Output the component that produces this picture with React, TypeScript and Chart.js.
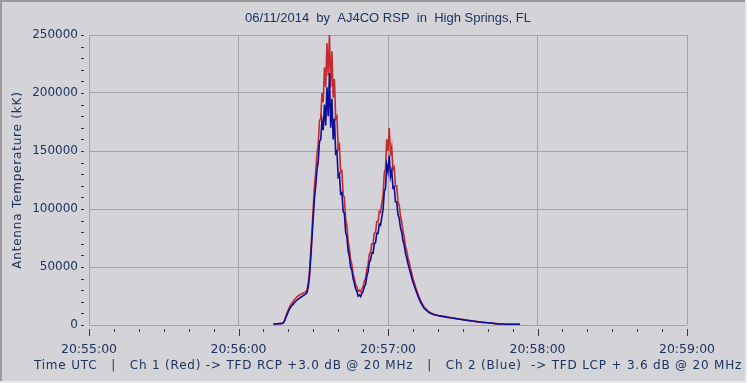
import React, { useEffect, useRef } from 'react';
import { Chart, registerables } from 'chart.js';

Chart.register(...registerables);

const TITLE = '06/11/2014  by  AJ4CO RSP  in  High Springs, FL';
const Y_TITLE = 'Antenna Temperature (kK)';
const X_TITLE = 'Time UTC   |   Ch 1 (Red) -> TFD RCP +3.0 dB @ 20 MHz   |   Ch 2 (Blue)  -> TFD LCP + 3.6 dB @ 20 MHz';

// x axis: seconds after 20:55:00
const xTickLabels = ['20:55:00', '20:56:00', '20:57:00', '20:58:00', '20:59:00'];
const X_MIN_S = 0;
const X_MAX_S = 240;
const Y_MAX = 250000;

// samples: first sample time (s after 20:55:00) and sample interval (s)
const SAMPLE_START_S = 74;
const SAMPLE_STEP_S = 0.5;

// Ch 2 (Blue) antenna temperature, in thousands
const ch2BlueK = [
  0.8, 0.9, 1.0, 1.0, 1.1, 1.2, 1.2, 1.4, 1.8, 3.5,
  6.5, 9.0, 11.5, 14.0, 15.5, 17.0, 18.0, 19.5, 20.5, 21.5,
  22.5, 23.0, 24.0, 24.5, 25.5, 26.0, 26.8, 28.0, 33, 42,
  58, 75, 93, 110, 120, 134, 141, 158, 160, 176,
  168, 190, 172, 205, 180, 217, 170, 195, 160, 178,
  148, 150, 128, 130, 113, 114, 98, 96, 80, 76,
  64, 59, 50, 47, 40, 36, 31, 29, 25, 26,
  24.5, 27, 29, 33, 35, 42, 46, 54, 56, 62,
  62, 70, 71, 79, 79, 87, 86, 93, 99, 115,
  118, 138, 132, 146, 128, 133, 118, 119, 106, 106,
  95, 92, 84, 80, 73, 69, 62, 58, 53, 49,
  45, 41, 37, 34, 31, 28, 25, 22.5, 20, 18,
  16, 14.5, 13.5, 12.5, 11.5, 10.8, 10.2, 9.7, 9.3, 8.9,
  8.6, 8.4, 8.2, 7.8, 7.9, 7.4, 7.5, 7.1, 7.2, 6.8,
  6.6, 6.5, 6.3, 6.1, 5.9, 5.8, 5.6, 5.4, 5.2, 5.1,
  4.9, 4.7, 4.6, 4.4, 4.3, 4.1, 4.0, 3.8, 3.7, 3.5,
  3.4, 3.2, 3.1, 2.9, 2.8, 2.7, 2.6, 2.4, 2.3, 2.2,
  2.1, 2.0, 1.9, 1.8, 1.7, 1.6, 1.5, 1.3, 1.2, 1.1,
  1.0, 0.9, 0.9, 0.8, 0.8, 0.8, 0.7, 0.7, 0.7, 0.7,
  0.6, 0.6, 0.6, 0.6, 0.6, 0.6, 0.6, 0.5, 0.5,
];

// Ch 1 (Red) antenna temperature, in thousands
const ch1RedK = [
  0.8, 0.9, 1.0, 1.0, 1.1, 1.2, 1.3, 1.5, 2.0, 4.0,
  7.5, 10.5, 13.0, 15.5, 17.5, 19.0, 20.5, 22.0, 23.0, 24.5,
  25.0, 26.0, 26.5, 27.0, 27.5, 28.0, 28.5, 30.0, 36, 47,
  63, 82, 101, 120, 132, 148, 156, 176, 178, 200,
  192, 222, 205, 243, 215, 251, 205, 236, 196, 212,
  178, 180, 152, 155, 132, 133, 112, 110, 91, 86,
  72, 66, 56, 52, 44, 40, 35, 33, 29, 30,
  28.5, 31, 33, 38, 40, 48, 52, 61, 63, 70,
  70, 79, 80, 89, 89, 98, 97, 105, 112, 131,
  135, 160, 150, 170, 146, 153, 134, 136, 120, 120,
  107, 103, 94, 89, 81, 76, 68, 64, 58, 54,
  49, 45, 40, 37, 33, 30, 27, 24, 21.5, 19.5,
  17.2, 15.5, 14.3, 13.2, 12.2, 11.4, 10.7, 10.1, 9.7, 9.2,
  8.8, 8.6, 8.3, 8.0, 8.0, 7.6, 7.6, 7.2, 7.3, 6.9,
  6.7, 6.6, 6.4, 6.2, 6.0, 5.9, 5.7, 5.5, 5.3, 5.2,
  5.0, 4.8, 4.7, 4.5, 4.4, 4.2, 4.1, 3.9, 3.8, 3.6,
  3.5, 3.3, 3.2, 3.0, 2.9, 2.8, 2.7, 2.5, 2.4, 2.3,
  2.2, 2.1, 2.0, 1.9, 1.8, 1.7, 1.6, 1.4, 1.3, 1.2,
  1.1, 1.0, 0.9, 0.9, 0.8, 0.8, 0.8, 0.7, 0.7, 0.7,
  0.7, 0.6, 0.6, 0.6, 0.6, 0.6, 0.6, 0.5, 0.5,
];

const BG = '#d4d3d8';
const GRID = '#a3a3a6';
const TEXT = '#1d3461';
const RED = '#c42a2e';
const BLUE = '#0d0d98';
const TICK_FONT = 'DejaVu Sans';

const toPoints = (vals: number[]) =>
  vals.map((v, i) => ({ x: SAMPLE_START_S + i * SAMPLE_STEP_S, y: v * 1000 }));

const decorPlugin = {
  id: 'decor',
  beforeDraw(chart: any) {
    const { ctx, width, height } = chart;
    ctx.save();
    ctx.fillStyle = BG;
    ctx.fillRect(0, 0, width, height);
    ctx.restore();
  },
  afterDraw(chart: any) {
    const { ctx, width, height, chartArea } = chart;
    const xs = chart.scales.x;
    const ys = chart.scales.y;
    ctx.save();
    // tick marks
    ctx.strokeStyle = '#3a3a40';
    ctx.lineWidth = 1;
    ctx.beginPath();
    for (let s = X_MIN_S; s <= X_MAX_S; s += 10) {
      const px = Math.round(xs.getPixelForValue(s)) + 0.5;
      const major = s % 60 === 0;
      ctx.moveTo(px, chartArea.bottom + 4);
      ctx.lineTo(px, chartArea.bottom + (major ? 11 : 7));
    }
    for (let v = 0; v <= Y_MAX; v += 10000) {
      const py = Math.round(ys.getPixelForValue(v)) + 0.5;
      ctx.moveTo(chartArea.left - 8, py);
      ctx.lineTo(chartArea.left - 5, py);
    }
    ctx.stroke();

    // title
    const cx = (chartArea.left + chartArea.right) / 2;
    const cy = (chartArea.top + chartArea.bottom) / 2;
    ctx.fillStyle = TEXT;
    ctx.textAlign = 'center';
    ctx.textBaseline = 'middle';
    ctx.font = '13px "Liberation Sans"';
    ctx.fillText(TITLE, cx, 18);

    // x axis title
    ctx.font = `12px "${TICK_FONT}"`;
    (ctx as any).letterSpacing = '0.8px';
    ctx.fillText(X_TITLE, cx, 366);

    // y axis title
    ctx.save();
    ctx.translate(18, cy);
    ctx.rotate(-Math.PI / 2);
    ctx.fillText(Y_TITLE, 0, 0);
    ctx.restore();
    (ctx as any).letterSpacing = '0px';

    // frame
    ctx.fillStyle = '#9a9a9e';
    ctx.fillRect(0, 0, width, 2);
    ctx.fillRect(0, 0, 2, height);
    ctx.fillStyle = '#ececee';
    ctx.fillRect(0, height - 2, width, 2);
    ctx.fillRect(width - 2, 0, 2, height);
    ctx.restore();
  },
};

export default function App() {
  const ref = useRef<HTMLCanvasElement | null>(null);

  useEffect(() => {
    if (!ref.current) return;
    const chart = new Chart(ref.current, {
      type: 'line',
      data: {
        datasets: [
          {
            label: 'Ch 2 (Blue)',
            data: toPoints(ch2BlueK),
            borderColor: BLUE,
            borderWidth: 1.6,
            pointRadius: 0,
            tension: 0,
            order: 0,
          },
          {
            label: 'Ch 1 (Red)',
            data: toPoints(ch1RedK),
            borderColor: RED,
            borderWidth: 1.6,
            pointRadius: 0,
            tension: 0,
            order: 1,
          },
        ],
      },
      options: {
        animation: false,
        responsive: false,
        maintainAspectRatio: false,
        events: [],
        layout: { padding: { top: 35, right: 60, bottom: 0, left: 0 } },
        plugins: {
          legend: { display: false },
          tooltip: { enabled: false },
          title: { display: false },
        },
        scales: {
          x: {
            type: 'linear',
            min: X_MIN_S,
            max: X_MAX_S,
            afterFit: (s: any) => {
              s.height = 58;
            },
            ticks: {
              stepSize: 60,
              autoSkip: false,
              maxRotation: 0,
              padding: 17,
              color: TEXT,
              font: { family: TICK_FONT, size: 12.5 },
              callback: (v: any) => xTickLabels[Math.round(Number(v) / 60)] ?? '',
            },
            grid: { color: GRID, lineWidth: 1, drawTicks: false },
            border: { display: false },
          },
          y: {
            type: 'linear',
            min: 0,
            max: Y_MAX,
            afterFit: (s: any) => {
              s.width = 89;
            },
            ticks: {
              stepSize: 50000,
              padding: 11,
              color: TEXT,
              font: { family: TICK_FONT, size: 12 },
              callback: (v: any) => String(v),
            },
            grid: { color: GRID, lineWidth: 1, drawTicks: false },
            border: { display: false },
          },
        },
      },
      plugins: [decorPlugin],
    });
    return () => chart.destroy();
  }, []);

  return (
    <div style={{ position: 'fixed', left: 0, top: 0, width: 747, height: 383, background: BG }}>
      <canvas ref={ref} width={747} height={383} style={{ display: 'block', width: 747, height: 383 }} />
    </div>
  );
}
